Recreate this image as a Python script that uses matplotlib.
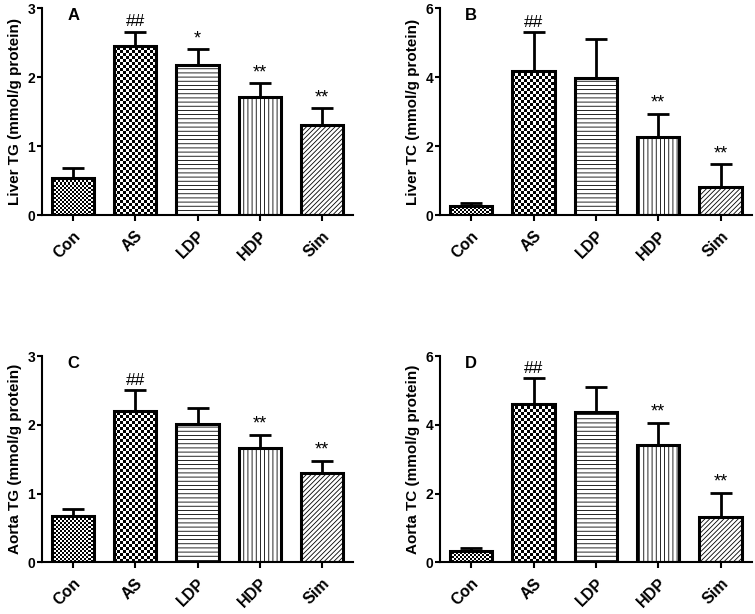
import numpy as np
import matplotlib
matplotlib.use('Agg')
import matplotlib.pyplot as plt

plt.rcParams['font.family'] = ['Liberation Sans', 'DejaVu Sans']

# groups
groups = ['Con', 'AS', 'LDP', 'HDP', 'Sim']

# Liver TG
liver_tg = [0.53, 2.45, 2.18, 1.71, 1.30]
liver_tg_err = [0.15, 0.21, 0.22, 0.20, 0.25]
liver_tg_sig = ['', '##', '*', '**', '**']

# Liver TC
liver_tc = [0.27, 4.18, 3.96, 2.27, 0.82]
liver_tc_err = [0.09, 1.12, 1.14, 0.66, 0.65]
liver_tc_sig = ['', '##', '', '**', '**']

# Aorta TG
aorta_tg = [0.68, 2.20, 2.02, 1.66, 1.30]
aorta_tg_err = [0.09, 0.31, 0.22, 0.20, 0.18]
aorta_tg_sig = ['', '##', '', '**', '**']

# Aorta TC
aorta_tc = [0.33, 4.61, 4.37, 3.42, 1.33]
aorta_tc_err = [0.08, 0.77, 0.74, 0.65, 0.70]
aorta_tc_sig = ['', '##', '', '**', '**']

# fill per group: checker square size (px) or hatch string
fills = [('checker', 2), ('checker', 3), ('hatch', '----'),
         ('hatch', '||||'), ('hatch', '///////')]

dpi = 100
fig = plt.figure(figsize=(7.55, 6.14), dpi=dpi)
plt.rcParams['hatch.linewidth'] = 0.6


def checker_fill(ax, bar, size_px, ymax):
    # checkerboard image over the whole axes, clipped to the bar
    pos = ax.get_position()
    w_px = pos.width * fig.get_figwidth() * dpi
    h_px = pos.height * fig.get_figheight() * dpi
    nx = int(round(w_px / size_px))
    ny = int(round(h_px / size_px))
    arr = np.add.outer(np.arange(ny), np.arange(nx)) % 2
    im = ax.imshow(arr, cmap='gray', extent=(-0.5, 4.5, 0, ymax),
                   aspect='auto', interpolation='nearest', origin='lower',
                   zorder=1.5)
    im.set_clip_path(bar)


def draw_panel(rect, vals, errs, sig, ymax, step, ylabel, letter):
    ax = fig.add_axes(rect)
    x = np.arange(len(groups))
    ax.errorbar(x, vals, yerr=[np.zeros(len(vals)), errs], fmt='none',
                ecolor='black', elinewidth=2, capsize=8, capthick=2,
                zorder=1)
    bars = ax.bar(x, vals, width=0.68, color='white', edgecolor='black',
                  linewidth=2.2, zorder=2)
    for bar, (kind, par) in zip(bars, fills):
        if kind == 'checker':
            bar.set_facecolor('none')
            checker_fill(ax, bar, par, ymax)
        else:
            bar.set_hatch(par)
    for xi, v, e, s in zip(x, vals, errs, sig):
        if s:
            fs = 12.5 if s == '##' else 13
            ax.annotate(s, (xi, v + e), xytext=(0, 1.5), textcoords='offset points',
                        ha='center', va='bottom', fontsize=fs)
    ax.set_xlim(-0.5, 4.5)
    ax.set_ylim(0, ymax)
    ax.set_yticks(np.arange(0, ymax + 0.01, step))
    ax.set_xticks(x)
    ax.set_xticklabels(groups, rotation=45, ha='right', rotation_mode='anchor',
                       fontweight='bold', fontsize=11.5)
    for lbl in ax.get_yticklabels():
        lbl.set_fontweight('bold')
        lbl.set_fontsize(10)
    ax.set_ylabel(ylabel, fontweight='bold', fontsize=11, labelpad=4)
    ax.spines['top'].set_visible(False)
    ax.spines['right'].set_visible(False)
    ax.spines['left'].set_linewidth(1.5)
    ax.spines['bottom'].set_linewidth(1.5)
    ax.tick_params(axis='y', direction='out', length=3.5, width=1.5, pad=1.5)
    ax.tick_params(axis='x', direction='out', length=4.5, width=1.5, pad=5)
    ax.text(0.1, 0.965, letter, transform=ax.transAxes, ha='center',
            va='center', fontsize=12, fontweight='bold')
    return ax


draw_panel([0.0556, 0.6498, 0.412, 0.337], liver_tg, liver_tg_err, liver_tg_sig,
           3, 1, 'Liver TG (mmol/g protein)', 'A')
draw_panel([0.5828, 0.6498, 0.413, 0.337], liver_tc, liver_tc_err, liver_tc_sig,
           6, 2, 'Liver TC (mmol/g protein)', 'B')
draw_panel([0.0556, 0.0842, 0.412, 0.3355], aorta_tg, aorta_tg_err, aorta_tg_sig,
           3, 1, 'Aorta TG (mmol/g protein)', 'C')
draw_panel([0.5828, 0.0842, 0.413, 0.3355], aorta_tc, aorta_tc_err, aorta_tc_sig,
           6, 2, 'Aorta TC (mmol/g protein)', 'D')

fig.savefig('out.png', dpi=dpi)
